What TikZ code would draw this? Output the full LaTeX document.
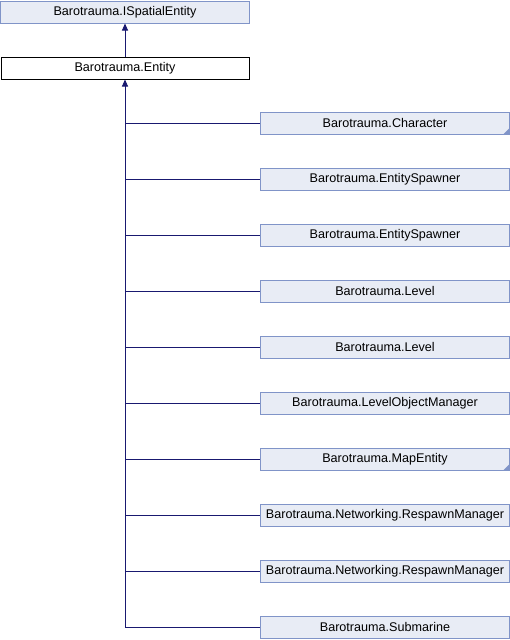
\documentclass[tikz,border=0pt]{standalone}
\usepackage{fontspec}
\setmainfont{Liberation Sans}
\usetikzlibrary{arrows.meta}
\definecolor{boxfill}{RGB}{232,236,245}
\definecolor{boxline}{RGB}{128,148,200}
\definecolor{edgecol}{RGB}{25,25,112}
\tikzset{
  cls/.style={draw=boxline, fill=boxfill, line width=1pt, minimum width=249pt, minimum height=22pt, inner sep=0pt, font=\fontsize{12.6}{14}\selectfont},
  cur/.style={draw=black, fill=white, line width=1pt, minimum width=248pt, minimum height=22pt, inner sep=0pt, font=\fontsize{12.6}{14}\selectfont},
  edge/.style={draw=edgecol, line width=1pt},
  inh/.style={edge, -{Triangle[length=7pt,width=6pt,fill=edgecol]}},
  corner/.style={fill=boxline, draw=none}
}
\begin{document}
\begin{tikzpicture}[x=1pt,y=-1pt]
\useasboundingbox (0,0) rectangle (510,640);
\node[cls] (ise) at (125,12) {Barotrauma.ISpatialEntity};
\node[cur] (ent) at (125,68) {Barotrauma.Entity};
\draw[inh] (ent.north) -- (ise.south);
\foreach \i/\t in {0/Barotrauma.Character,1/Barotrauma.EntitySpawner,2/Barotrauma.EntitySpawner,3/Barotrauma.Level,4/Barotrauma.Level,5/Barotrauma.LevelObjectManager,6/Barotrauma.MapEntity,7/Barotrauma.Networking.RespawnManager,8/Barotrauma.Networking.RespawnManager,9/Barotrauma.Submarine}{
  \node[cls] (c\i) at (385,123+56*\i) {\t};
  \coordinate (j\i) at (125,123+56*\i);
  \draw[edge] (j\i) -- (c\i.west);
}
\draw[inh] (j9) -- (ent.south);
\foreach \i in {0,6}{
  \fill[corner] ([xshift=-0.5pt,yshift=0.5pt]c\i.south east) -- ++(-6,0) -- ++(6,-6) -- cycle;
}
\end{tikzpicture}
\end{document}
